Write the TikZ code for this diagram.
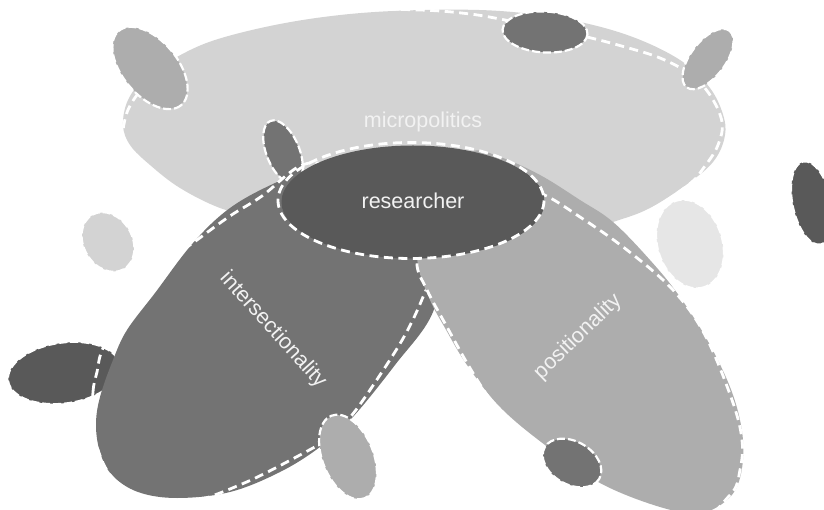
\documentclass[tikz,border=0pt]{standalone}
\usepackage{fontspec}
\setmainfont{Liberation Sans}
\definecolor{greyA}{HTML}{D3D3D3}
\definecolor{greyB}{HTML}{ADADAD}
\definecolor{greyC}{HTML}{737373}
\definecolor{greyD}{HTML}{595959}
\definecolor{greyF}{HTML}{E6E6E6}
\definecolor{labeltext}{HTML}{F2F2F2}

% rotated elliptic blob: x, y, x radius, y radius, angle, colour
\newcommand{\ellblob}[6]{%
  \fill[#6, rotate around={#5:(#1,#2)}] (#1,#2) ellipse [x radius=#3, y radius=#4];
  \draw[blobedge, rotate around={#5:(#1,#2)}] (#1,#2) ellipse [x radius=#3+0.5, y radius=#4+0.5];
}

\begin{document}
\begin{tikzpicture}[x=1pt,y=-1pt,
  areaedge/.style={draw=white, line width=2.8pt, dash pattern=on 9pt off 5.5pt},
  blobedge/.style={draw=white, line width=2.2pt, dash pattern=on 8pt off 3pt},
  lbl/.style={text=labeltext, font=\fontsize{21.5}{25}\selectfont, inner sep=0pt}]
\useasboundingbox (0,0) rectangle (824,510);
\clip (0,0) rectangle (824,510);

% micropolitics
\fill[greyA] plot[smooth cycle, tension=0.6] coordinates {
  (123,125) (128,100) (145,78) (175,58) (215,40) (280,24) (350,14) (424,10)
  (500,11) (570,20) (630,36) (680,60) (710,88) (724,118) (724,140) (713,162)
  (690,182) (650,208) (613,222) (560,238) (480,245) (400,244) (320,232)
  (260,218) (220,208) (180,188) (150,165) (130,145)};
\draw[areaedge] plot[smooth cycle, tension=0.6] coordinates {
  (124,124) (137,95) (180,50) (260,22) (340,10) (420,10) (470,14) (505,20)
  (545,28) (587,37) (625,47) (660,58) (690,74) (710,95) (722,122) (718,145)
  (705,166) (687,186) (640,215) (560,242) (430,250) (300,232) (205,210)
  (150,185) (126,152)};

% small blobs around the upper area
\ellblob{150}{68}{48}{27}{-50}{greyB}
\ellblob{545}{32}{42}{20}{-3}{greyC}
\ellblob{708}{59}{35}{17}{53}{greyB}
\ellblob{283}{152}{33}{16}{-68}{greyC}
\ellblob{108}{242}{31}{24}{-60}{greyA}
\ellblob{690}{244}{45}{32}{-72}{greyF}
\ellblob{812}{203}{42}{19}{-78}{greyD}
\ellblob{64}{373}{56}{30}{8}{greyD}

% intersectionality
\fill[greyC] plot[smooth cycle, tension=0.6] coordinates {
  (96,425) (100,397) (113,360) (127,330) (155,293) (193,243) (230,208)
  (275,183) (320,166) (365,160) (405,170) (432,200) (442,250) (433,312)
  (395,365) (352,418) (320,447) (280,472) (230,492) (177,498) (138,492)
  (112,475) (100,452)};
\draw[areaedge] plot[smooth cycle, tension=0.6] coordinates {
  (93,430) (93,392) (97,372) (103,348) (125,310) (160,268) (197,240)
  (230,216) (262,196) (300,166) (330,165) (380,178) (425,205) (440,250)
  (423,297) (405,335) (380,375) (352,415) (330,437) (300,455) (242,484)
  (185,503) (138,497) (108,472)};

% positionality
\fill[greyB] plot[smooth cycle, tension=0.6] coordinates {
  (470,152) (500,157) (540,175) (580,200) (613,222) (650,260) (680,297)
  (710,345) (733,395) (743,440) (740,478) (727,500) (700,513) (660,507)
  (600,483) (545,445) (500,407) (467,365) (445,328) (430,300) (418,265)
  (418,225) (435,185)};
\draw[areaedge] plot[smooth cycle, tension=0.6] coordinates {
  (417,262) (427,290) (447,327) (467,363) (487,395) (510,425) (545,452)
  (598,490) (690,520) (730,495) (740,470) (742,440) (732,400) (705,335)
  (673,290) (627,250) (580,217) (540,193) (500,185) (460,195) (430,225)};

% researcher
\fill[greyD] (413,202) ellipse [x radius=131.5, y radius=56.5];
\draw[areaedge] (411,200.5) ellipse [x radius=133, y radius=58];

% small blobs on the lower areas
\ellblob{348}{457}{44}{25}{-68}{greyB}
\ellblob{572}{463}{31}{21}{-30}{greyC}

% labels
\node[lbl] (micro) at (423,122) {micropolitics};
\node[lbl] (res) at (413,201) {researcher};
\node[lbl, rotate=-48] (inter) at (273,330) {intersectionality};
\node[lbl, rotate=44] (posi) at (578,337) {positionality};
\end{tikzpicture}
\end{document}
